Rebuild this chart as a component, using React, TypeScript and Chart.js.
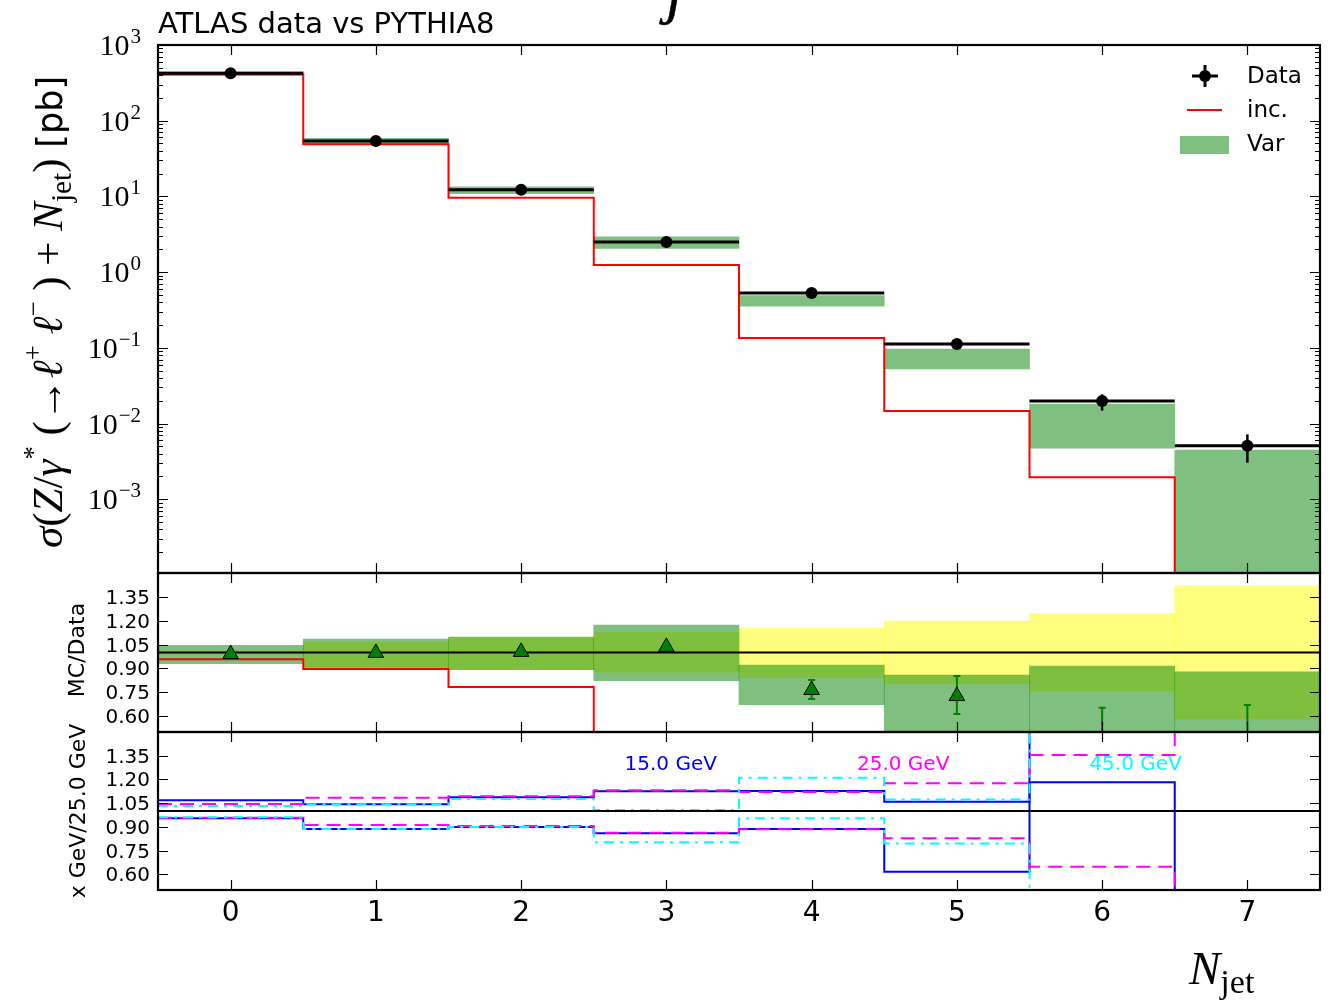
import React, { useEffect, useRef } from 'react';
import { Chart, registerables } from 'chart.js';

Chart.register(...registerables);

// ---------------- data ----------------
const xCenters = [0, 1, 2, 3, 4, 5, 6, 7];
const binEdges = [-0.5, 0.5, 1.5, 2.5, 3.5, 4.5, 5.5, 6.5, 7.5];
const xTickLabels = ['0', '1', '2', '3', '4', '5', '6', '7'];

// top panel: sigma [pb]
const dataXsec = [423, 54, 12.2, 2.5, 0.53, 0.112, 0.0198, 0.00509];
const dataXsecErrLow = [416, 53.1, 11.9, 2.44, 0.515, 0.104, 0.0148, 0.00303];
const dataXsecErrHigh = [430, 54.9, 12.5, 2.56, 0.545, 0.12, 0.0243, 0.00719];
const incXsec = [410, 48.8, 9.6, 1.24, 0.135, 0.0146, 0.00195, 0];
const varXsecLow = [393, 48.4, 10.9, 2.06, 0.356, 0.0525, 0.00474, 0];
const varXsecHigh = [442, 58.6, 13.4, 2.93, 0.488, 0.0964, 0.0181, 0.00447];
const logTickExponents = [-3, -2, -1, 0, 1, 2, 3];

// middle panel: MC/Data
const ratioInc = [0.957, 0.896, 0.783, 0.496, 0.255, 0.13, 0.098, 0];
const ratioVarLow = [0.93, 0.896, 0.892, 0.823, 0.672, 0.47, 0.24, 0];
const ratioVarHigh = [1.045, 1.085, 1.097, 1.173, 0.921, 0.858, 0.915, 0.878];
const ratioUncLow = [0.99, 0.911, 0.892, 0.877, 0.841, 0.802, 0.758, 0.582];
const ratioUncHigh = [1.01, 1.064, 1.097, 1.127, 1.154, 1.198, 1.244, 1.42];
const ratioVarCentral = [0.99, 0.997, 1.004, 1.035, 0.764, 0.726, 0.42, 0.3];
const ratioVarErrLow = [0.98, 0.987, 0.994, 1.025, 0.707, 0.613, 0.2, 0.05];
const ratioVarErrHigh = [1.0, 1.007, 1.014, 1.045, 0.827, 0.852, 0.653, 0.67];
const ratioTickValues = [0.6, 0.75, 0.9, 1.05, 1.2, 1.35];

// bottom panel: x GeV / 25.0 GeV
const ratio15Up = [1.068, 1.042, 1.087, 1.125, 1.127, 1.059, 1.182, 0];
const ratio15Down = [0.954, 0.886, 0.899, 0.859, 0.886, 0.616, 3.0, 3.0];
const ratio25Up = [1.044, 1.084, 1.093, 1.131, 1.12, 1.175, 1.354, 3.0];
const ratio25Down = [0.958, 0.911, 0.905, 0.863, 0.884, 0.827, 0.647, 0];
const ratio45Up = [1.032, 1.042, 1.076, 1.006, 1.211, 1.072, 3.0, 3.0];
const ratio45Down = [0.96, 0.886, 0.899, 0.802, 0.954, 0.795, 0, 0];
const variationLabels = ['15.0 GeV', '25.0 GeV', '45.0 GeV'];
const variationColors = ['#0000ff', '#ff00ff', '#00ffff'];
const variationLabelX = [3.03, 4.63, 6.23];
const variationLabelY = [1.3, 1.3, 1.3];
const unityRatio = [1, 1];

// ---------------- layout / style ----------------
const PAGE_W = 1331;
const PAGE_H = 1006;
const PLOT_LEFT = 158;
const PLOT_RIGHT = 1320;
const TOP_PANEL = [45, 573];
const MID_PANEL = [573, 732];
const BOT_PANEL = [732, 890];
const LOG_MIN = 1.06e-4;
const LOG_MAX = 1000;
const LOG_FLOOR = 1e-9; // zero drawn below the frame on the log axis

const GREEN_BAND = 'rgba(0,128,0,0.5)';
const YELLOW_BAND = 'rgba(255,255,0,0.5)';
const SANS = '"DejaVu Sans", "Noto Sans", sans-serif';
const SERIF = '"Liberation Serif", "DejaVu Serif", serif';

function stepPoints(values: number[], floor = -Infinity) {
  const pts = values.map((v, i) => ({ x: binEdges[i], y: Math.max(v, floor) }));
  pts.push({ x: binEdges[values.length], y: Math.max(values[values.length - 1], floor) });
  return pts;
}

function binSegments(values: number[]) {
  const pts: any[] = [];
  values.forEach((v, i) => {
    pts.push({ x: binEdges[i], y: v }, { x: binEdges[i + 1], y: v }, { x: binEdges[i + 1], y: null });
  });
  return pts;
}

function bandBars(lo: number[], hi: number[], color: string, order: number, label: string, floor = -Infinity) {
  return {
    type: 'bar',
    label,
    data: xCenters.map((x, i) => ({ x, y: [Math.max(lo[i], floor), hi[i]] })),
    backgroundColor: color,
    borderWidth: 0,
    grouped: false,
    barPercentage: 1,
    categoryPercentage: 1,
    clip: 0,
    order,
  };
}

function stepLine(values: number[], color: string, order: number, label: string, dash: number[] = [], floor = -Infinity) {
  return {
    type: 'line',
    label,
    data: stepPoints(values, floor),
    borderColor: color,
    borderWidth: 2,
    borderDash: dash,
    stepped: 'before',
    pointRadius: 0,
    fill: false,
    order,
  };
}

function unityLine(order: number) {
  return {
    type: 'line',
    label: 'unity',
    data: unityRatio.map((v, i) => ({ x: binEdges[i * (binEdges.length - 1)], y: v })),
    borderColor: '#000',
    borderWidth: 2,
    pointRadius: 0,
    order,
  };
}

function baseOptions(panel: number[], y: any, plugins: any = {}) {
  return {
    responsive: false,
    animation: false,
    devicePixelRatio: 1,
    events: [],
    layout: {
      padding: { left: PLOT_LEFT, right: PAGE_W - PLOT_RIGHT, top: panel[0], bottom: PAGE_H - panel[1] },
    },
    plugins: { legend: { display: false }, tooltip: { enabled: false }, title: { display: false }, ...plugins },
    scales: {
      x: { type: 'linear', min: binEdges[0], max: binEdges[binEdges.length - 1], offset: false, bounds: 'data', display: false, ticks: { stepSize: 1 } },
      y: { ...y, bounds: 'data', display: false },
    },
  };
}

// ---------------- drawing helpers ----------------
function withClip(chart: any, fn: (ctx: CanvasRenderingContext2D) => void) {
  const { ctx, chartArea: a } = chart;
  ctx.save();
  ctx.beginPath();
  ctx.rect(a.left, a.top, a.right - a.left, a.bottom - a.top);
  ctx.clip();
  fn(ctx);
  ctx.restore();
}

function drawFrameAndXTicks(chart: any) {
  const { ctx, chartArea: a, scales } = chart;
  ctx.save();
  ctx.strokeStyle = '#000';
  ctx.lineWidth = 1.2;
  for (const c of xCenters) {
    const px = Math.round(scales.x.getPixelForValue(c)) + 0.5;
    ctx.beginPath();
    ctx.moveTo(px, a.top);
    ctx.lineTo(px, a.top + 10);
    ctx.moveTo(px, a.bottom);
    ctx.lineTo(px, a.bottom - 10);
    ctx.stroke();
  }
  ctx.lineWidth = 2.2;
  ctx.strokeRect(a.left, a.top, a.right - a.left, a.bottom - a.top);
  ctx.restore();
}

function drawYTick(ctx: CanvasRenderingContext2D, a: any, py: number, len: number) {
  ctx.beginPath();
  ctx.moveTo(a.left, py);
  ctx.lineTo(a.left + len, py);
  ctx.moveTo(a.right, py);
  ctx.lineTo(a.right - len, py);
  ctx.stroke();
}

function drawRatioAxis(chart: any) {
  const { ctx, chartArea: a, scales } = chart;
  ctx.save();
  ctx.strokeStyle = '#000';
  ctx.lineWidth = 1.2;
  ctx.fillStyle = '#000';
  ctx.font = `20px ${SANS}`;
  ctx.textAlign = 'right';
  ctx.textBaseline = 'middle';
  for (const v of ratioTickValues) {
    const py = Math.round(scales.y.getPixelForValue(v)) + 0.5;
    drawYTick(ctx, a, py, 10);
    ctx.fillText(v.toFixed(2), a.left - 8, py + 1);
  }
  ctx.restore();
}

// ---------------- plugins ----------------
const topDecor = {
  id: 'topDecor',
  beforeDatasetDraw(chart: any, args: any) {
    const ds = chart.data.datasets[args.index];
    if (ds.label !== 'Data') return;
    const xs = chart.scales.x;
    const ys = chart.scales.y;
    withClip(chart, (ctx) => {
      ctx.strokeStyle = '#000';
      ctx.lineWidth = 2.5;
      xCenters.forEach((c, i) => {
        const px = xs.getPixelForValue(c);
        ctx.beginPath();
        ctx.moveTo(px, ys.getPixelForValue(dataXsecErrLow[i]));
        ctx.lineTo(px, ys.getPixelForValue(dataXsecErrHigh[i]));
        ctx.stroke();
      });
    });
  },
  afterDraw(chart: any) {
    const { ctx, chartArea: a, scales } = chart;
    const ys = scales.y;
    drawFrameAndXTicks(chart);
    ctx.save();
    ctx.strokeStyle = '#000';
    ctx.lineWidth = 1.2;
    for (let e = -5; e <= 3; e++) {
      for (let k = 2; k <= 9; k++) {
        const v = k * Math.pow(10, e);
        if (v > ys.min && v < ys.max) drawYTick(ctx, a, Math.round(ys.getPixelForValue(v)) + 0.5, 5);
      }
    }
    ctx.fillStyle = '#000';
    ctx.textAlign = 'left';
    ctx.textBaseline = 'alphabetic';
    const labelRight = 141;
    for (const e of logTickExponents) {
      const py = Math.round(ys.getPixelForValue(Math.pow(10, e))) + 0.5;
      drawYTick(ctx, a, py, 10);
      const exp = e < 0 ? '\u2212' + Math.abs(e) : String(e);
      ctx.font = `21px ${SERIF}`;
      const w2 = ctx.measureText(exp).width;
      ctx.fillText(exp, labelRight - w2, py - 3);
      ctx.font = `30px ${SERIF}`;
      const w1 = ctx.measureText('10').width;
      ctx.fillText('10', labelRight - w2 - w1 - 1, py + 9);
    }
    // legend
    ctx.font = `23px ${SANS}`;
    ctx.textBaseline = 'middle';
    ctx.textAlign = 'left';
    ctx.strokeStyle = '#000';
    ctx.lineWidth = 3;
    ctx.beginPath();
    ctx.moveTo(1192, 76);
    ctx.lineTo(1218, 76);
    ctx.moveTo(1205, 65);
    ctx.lineTo(1205, 87);
    ctx.stroke();
    ctx.beginPath();
    ctx.arc(1205, 76, 6, 0, Math.PI * 2);
    ctx.fill();
    ctx.fillText('Data', 1247, 77);
    ctx.strokeStyle = '#ff0000';
    ctx.lineWidth = 2;
    ctx.beginPath();
    ctx.moveTo(1187, 110);
    ctx.lineTo(1222, 110);
    ctx.stroke();
    ctx.fillText('inc.', 1247, 111);
    ctx.fillStyle = GREEN_BAND;
    ctx.fillRect(1180, 136, 49, 18);
    ctx.fillStyle = '#000';
    ctx.fillText('Var', 1247, 145);
    ctx.restore();
  },
};

const midDecor = {
  id: 'midDecor',
  beforeDatasetDraw(chart: any, args: any) {
    const ds = chart.data.datasets[args.index];
    if (ds.label !== 'Var/Data') return;
    const xs = chart.scales.x;
    const ys = chart.scales.y;
    withClip(chart, (ctx) => {
      ctx.strokeStyle = '#008000';
      ctx.lineWidth = 2;
      xCenters.forEach((c, i) => {
        const px = xs.getPixelForValue(c);
        const y1 = ys.getPixelForValue(ratioVarErrLow[i]);
        const y2 = ys.getPixelForValue(ratioVarErrHigh[i]);
        ctx.beginPath();
        ctx.moveTo(px, y1);
        ctx.lineTo(px, y2);
        ctx.moveTo(px - 3.5, y1);
        ctx.lineTo(px + 3.5, y1);
        ctx.moveTo(px - 3.5, y2);
        ctx.lineTo(px + 3.5, y2);
        ctx.stroke();
      });
    });
  },
  afterDraw(chart: any) {
    drawFrameAndXTicks(chart);
    drawRatioAxis(chart);
  },
};

const botDecor = {
  id: 'botDecor',
  afterDatasetsDraw(chart: any) {
    const { ctx, scales } = chart;
    ctx.save();
    ctx.font = `20px ${SANS}`;
    ctx.textAlign = 'center';
    ctx.textBaseline = 'middle';
    variationLabels.forEach((t, i) => {
      ctx.fillStyle = variationColors[i];
      ctx.fillText(t, scales.x.getPixelForValue(variationLabelX[i]), scales.y.getPixelForValue(variationLabelY[i]) + 1);
    });
    ctx.restore();
  },
  afterDraw(chart: any) {
    const { ctx, scales } = chart;
    drawFrameAndXTicks(chart);
    drawRatioAxis(chart);
    ctx.save();
    ctx.fillStyle = '#000';
    ctx.font = `28px ${SANS}`;
    ctx.textAlign = 'center';
    ctx.textBaseline = 'middle';
    xCenters.forEach((c, i) => {
      ctx.fillText(xTickLabels[i], scales.x.getPixelForValue(c), 914);
    });
    ctx.restore();
  },
};

// ---------------- configs ----------------
function topConfig(): any {
  return {
    type: 'line',
    data: {
      datasets: [
        bandBars(varXsecLow, varXsecHigh, GREEN_BAND, 5, 'Var', LOG_FLOOR),
        stepLine(incXsec, '#ff0000', 4, 'inc.', [], LOG_FLOOR),
        {
          type: 'line',
          label: 'Data bins',
          data: binSegments(dataXsec),
          borderColor: '#000',
          borderWidth: 3,
          pointRadius: 0,
          spanGaps: false,
          order: 2,
        },
        {
          type: 'line',
          label: 'Data',
          data: xCenters.map((x, i) => ({ x, y: dataXsec[i] })),
          showLine: false,
          pointRadius: 6,
          pointStyle: 'circle',
          pointBackgroundColor: '#000',
          pointBorderWidth: 0,
          order: 1,
        },
      ],
    },
    options: baseOptions(TOP_PANEL, { type: 'logarithmic', min: LOG_MIN, max: LOG_MAX }),
    plugins: [topDecor],
  };
}

function midConfig(): any {
  return {
    type: 'line',
    data: {
      datasets: [
        bandBars(ratioUncLow, ratioUncHigh, YELLOW_BAND, 7, 'MC unc.'),
        bandBars(ratioVarLow, ratioVarHigh, GREEN_BAND, 6, 'Var band'),
        stepLine(ratioInc, '#ff0000', 4, 'inc./Data'),
        unityLine(3),
        {
          type: 'line',
          label: 'Var/Data',
          data: xCenters.map((x, i) => ({ x, y: ratioVarCentral[i] })),
          showLine: false,
          pointStyle: 'triangle',
          pointRadius: 9,
          pointBackgroundColor: '#008000',
          pointBorderColor: '#000',
          pointBorderWidth: 1,
          clip: 0,
          order: 1,
        },
      ],
    },
    options: baseOptions(MID_PANEL, { type: 'linear', min: 0.5, max: 1.5 }),
    plugins: [midDecor],
  };
}

function botConfig(): any {
  return {
    type: 'line',
    data: {
      datasets: [
        unityLine(1),
        stepLine(ratio15Up, '#0000ff', 6, '15 up'),
        stepLine(ratio15Down, '#0000ff', 6, '15 down'),
        stepLine(ratio25Up, '#ff00ff', 5, '25 up', [14, 8]),
        stepLine(ratio25Down, '#ff00ff', 5, '25 down', [14, 8]),
        stepLine(ratio45Up, '#00ffff', 4, '45 up', [10, 6, 3, 6]),
        stepLine(ratio45Down, '#00ffff', 4, '45 down', [10, 6, 3, 6]),
      ],
    },
    options: baseOptions(BOT_PANEL, { type: 'linear', min: 0.5, max: 1.5 }),
    plugins: [botDecor],
  };
}

// ---------------- component ----------------
export default function App() {
  const topRef = useRef<HTMLCanvasElement>(null);
  const midRef = useRef<HTMLCanvasElement>(null);
  const botRef = useRef<HTMLCanvasElement>(null);

  useEffect(() => {
    const charts = [
      new Chart(topRef.current as HTMLCanvasElement, topConfig()),
      new Chart(midRef.current as HTMLCanvasElement, midConfig()),
      new Chart(botRef.current as HTMLCanvasElement, botConfig()),
    ];
    return () => charts.forEach((c) => c.destroy());
  }, []);

  const canvasStyle: React.CSSProperties = { position: 'absolute', left: 0, top: 0, width: PAGE_W, height: PAGE_H };
  const supStyle: React.CSSProperties = { fontSize: '0.62em', verticalAlign: '0.75em', lineHeight: 0 };
  const subStyle: React.CSSProperties = { fontSize: '0.68em', fontStyle: 'normal', verticalAlign: '-0.3em', lineHeight: 0 };

  return (
    <div style={{ position: 'absolute', left: 0, top: 0, width: PAGE_W, height: PAGE_H, background: '#fff', overflow: 'hidden' }}>
      <canvas ref={topRef} width={PAGE_W} height={PAGE_H} style={canvasStyle} />
      <canvas ref={midRef} width={PAGE_W} height={PAGE_H} style={canvasStyle} />
      <canvas ref={botRef} width={PAGE_W} height={PAGE_H} style={canvasStyle} />

      <div style={{ position: 'absolute', left: 666, top: -40, font: `italic 62px ${SERIF}`, lineHeight: '62px', WebkitTextStroke: '0.5px #000' }}>j</div>

      <div style={{ position: 'absolute', left: 158, top: 8.5, font: `29px ${SANS}`, lineHeight: '29px', whiteSpace: 'nowrap', color: '#000' }}>
        ATLAS data vs PYTHIA8
      </div>

      <div
        style={{
          position: 'absolute',
          left: 48,
          top: 312,
          transform: 'translate(-50%, -50%) rotate(-90deg)',
          whiteSpace: 'nowrap',
          font: `43px ${SERIF}`,
          lineHeight: '46px',
          color: '#000',
        }}
      >
        <i>σ</i>(<i>Z</i>/<i>γ</i>
        <span style={supStyle}>*</span>&nbsp;(→<i>ℓ</i>
        <span style={supStyle}>+</span>&nbsp;<i>ℓ</i>
        <span style={supStyle}>−</span>&nbsp;)&nbsp;+&nbsp;<i>N</i>
        <span style={subStyle}>jet</span>)&nbsp;<span style={{ font: `35px ${SANS}` }}>[pb]</span>
      </div>

      <div
        style={{
          position: 'absolute',
          left: 77,
          top: 650,
          transform: 'translate(-50%, -50%) rotate(-90deg)',
          whiteSpace: 'nowrap',
          font: `22px ${SANS}`,
          lineHeight: '26px',
        }}
      >
        MC/Data
      </div>

      <div
        style={{
          position: 'absolute',
          left: 78,
          top: 811,
          transform: 'translate(-50%, -50%) rotate(-90deg)',
          whiteSpace: 'nowrap',
          font: `22px ${SANS}`,
          lineHeight: '26px',
        }}
      >
        x GeV/25.0 GeV
      </div>

      <div style={{ position: 'absolute', left: 1189, top: 945, font: `italic 47px ${SERIF}`, lineHeight: '47px', whiteSpace: 'nowrap' }}>
        N<span style={{ fontStyle: 'normal', fontSize: '34px', position: 'relative', top: '9px' }}>jet</span>
      </div>
    </div>
  );
}
